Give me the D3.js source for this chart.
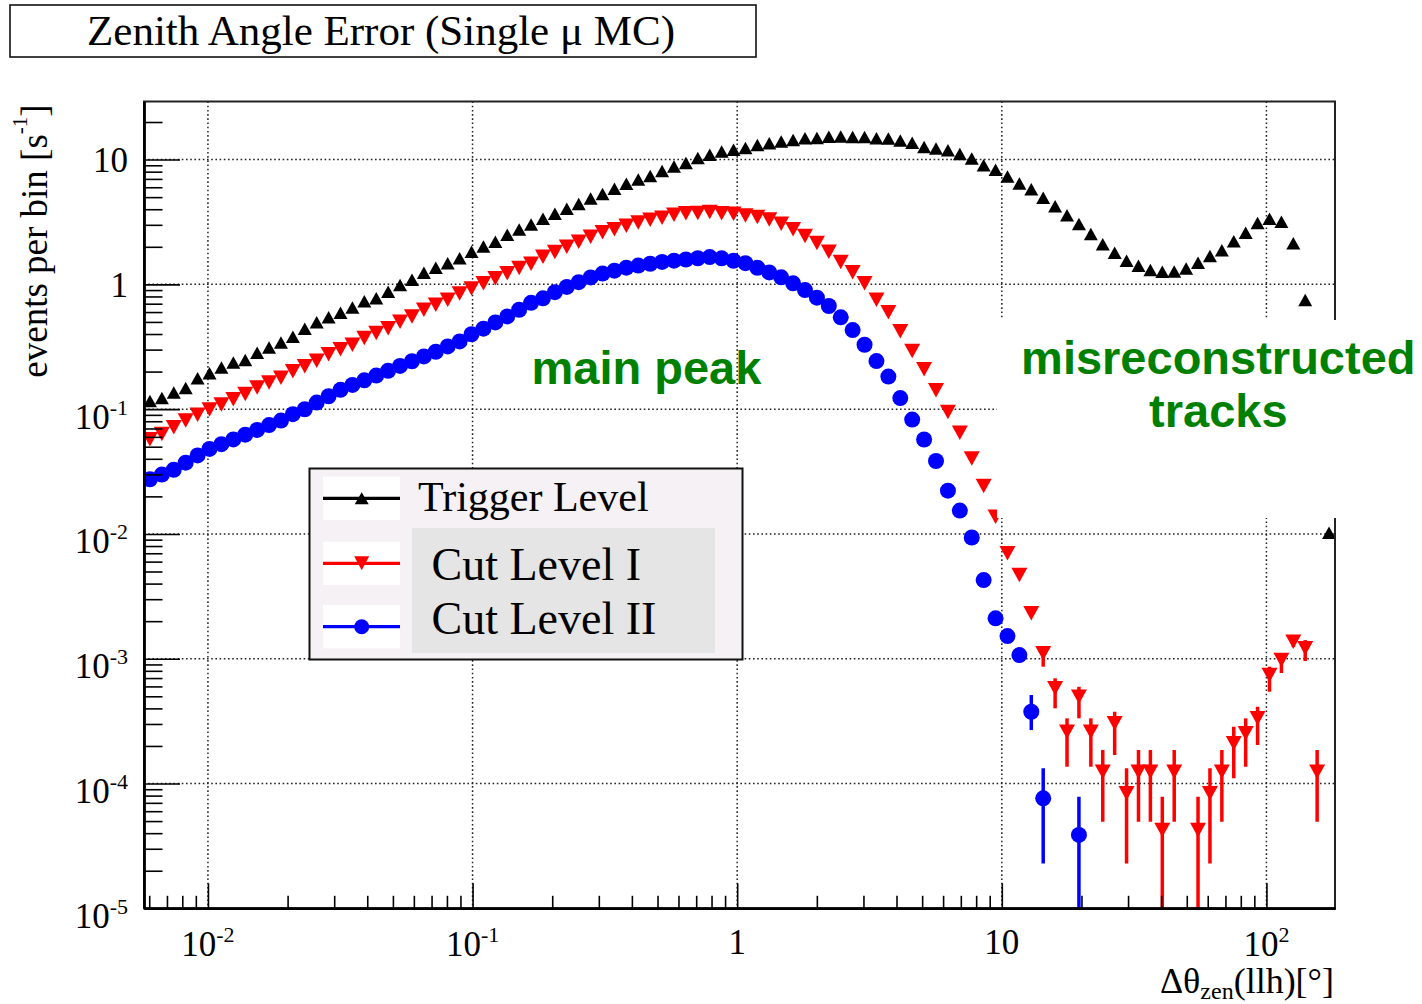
<!DOCTYPE html>
<html>
<head>
<meta charset="utf-8">
<script src="https://cdn.jsdelivr.net/npm/d3@7"></script>
<style>
  body { margin: 0; background: #fff; }
  svg { display: block; font-family: "Liberation Serif", "Times New Roman", serif; }
</style>
</head>
<body>
<svg id="chart" width="1422" height="1004"></svg>
<script>
// histogram binning (100 log bins)
const nBins = 100;
const binLow = 0.005733;
const binHigh = 181.6;

// events per bin [1/s]
const triggerLevel = [
  0.116, 0.123, 0.136, 0.148, 0.177, 0.194, 0.216, 0.236, 0.248, 0.283,
  0.312, 0.342, 0.380, 0.441, 0.496, 0.544, 0.591, 0.651, 0.731, 0.775,
  0.874, 0.987, 1.087, 1.241, 1.358, 1.479, 1.619, 1.822, 2.009, 2.198,
  2.496, 2.749, 3.015, 3.355, 3.686, 4.035, 4.400, 4.870, 5.302, 5.824,
  6.388, 6.915, 7.389, 8.102, 8.788, 9.393, 10.28, 10.95, 11.59, 11.96,
  12.39, 13.07, 13.53, 13.94, 14.38, 14.79, 14.87, 15.23, 15.30, 15.20,
  15.17, 14.79, 14.73, 14.25, 13.66, 12.64, 12.27, 11.85, 11.09, 10.22,
  9.02, 8.30, 7.32, 6.44, 5.78, 4.94, 4.22, 3.58, 3.04, 2.53,
  2.096, 1.792, 1.546, 1.409, 1.302, 1.262, 1.266, 1.339, 1.492, 1.686,
  1.873, 2.211, 2.591, 3.099, 3.360, 3.179, 2.131, 0.748, 0.080, 0.0102
];

const cutLevel1 = [
  0.0573, 0.0632, 0.0715, 0.0810, 0.0903, 0.0993, 0.1091, 0.1198, 0.1321, 0.1492,
  0.1633, 0.1781, 0.2012, 0.2211, 0.2442, 0.2754, 0.3020, 0.3286, 0.3720, 0.4079,
  0.4440, 0.5016, 0.5521, 0.6247, 0.6862, 0.7543, 0.8437, 0.9271, 1.019, 1.119,
  1.229, 1.351, 1.465, 1.661, 1.815, 1.998, 2.194, 2.411, 2.610, 2.764,
  2.943, 3.133, 3.299, 3.417, 3.612, 3.706, 3.734, 3.796, 3.706, 3.679,
  3.565, 3.462, 3.317, 3.053, 2.769, 2.438, 2.142, 1.822, 1.509, 1.248,
  1.019, 0.7543, 0.5977, 0.4201, 0.2921, 0.2084, 0.1420, 0.0948, 0.0646, 0.0403,
  0.0242, 0.01373, 0.00699, 0.00468, 0.00231, 0.001105, 0.000579, 0.000260, 0.000496, 0.000260,
  0.0001243, 0.000304, 0.0000835, 0.0001243, 0.0001243, 0.0000424, 0.0001243, null, 0.0000424, 0.0000835,
  0.0001243, 0.000210, 0.0002525, 0.000333, 0.000740, 0.000976, 0.001368, 0.001212, 0.0001243, null
];

const cutLevel2 = [
  0.02738, 0.02992, 0.03269, 0.03726, 0.04256, 0.04799, 0.05243, 0.05718, 0.06247, 0.06812,
  0.07458, 0.0810, 0.0912, 0.0998, 0.1129, 0.1269, 0.1428, 0.1565, 0.1701, 0.1859,
  0.2031, 0.2219, 0.2419, 0.2644, 0.2884, 0.3180, 0.3488, 0.3983, 0.4416, 0.4951,
  0.5531, 0.6258, 0.7109, 0.7724, 0.8660, 0.9532, 1.041, 1.136, 1.220, 1.288,
  1.361, 1.414, 1.463, 1.512, 1.548, 1.583, 1.619, 1.654, 1.616, 1.546,
  1.479, 1.358, 1.246, 1.138, 1.020, 0.9000, 0.7824, 0.6712, 0.5440, 0.4303,
  0.3281, 0.2428, 0.1825, 0.1227, 0.0825, 0.0571, 0.0384, 0.02220, 0.01540, 0.00936,
  0.00427, 0.002107, 0.00152, 0.00107, 0.000376, 0.0000761, null, null, 0.0000387, null,
  null, null, null, null, null, null, null, null, null, null,
  null, null, null, null, null, null, null, null, null, null
];

// error bars where they stick out of the markers (bin index, low edge, high edge)
const cut1ErrBins = [75, 76, 77, 78, 79, 80, 81, 82, 83, 84, 85, 86, 88, 89, 90, 91, 92, 93, 94, 95, 96, 97, 98];
const cut1ErrLow  = [0.000863, 0.0004005, 0.0001363, 0.000333, 0.0001363, 0.0000494, 0.0001692, 0.0000229, 0.0000494, 0.0000494,
                     0, 0.0000494, 0, 0.0000229, 0.0000494, 0.00011, 0.0001363, 0.0002035, 0.000544, 0.000768, 0.00124, 0.000958, 0.0000494];
const cut1ErrHigh = [0.001248, 0.000697, 0.000333, 0.000596, 0.000333, 0.0001855, 0.000376, 0.0001324, 0.0001855, 0.0001855,
                     0.0000784, 0.0001855, 0.0000784, 0.0001324, 0.0001855, 0.000285, 0.000333, 0.000412, 0.000863, 0.00107, 0.0015, 0.00141, 0.0001855];
const cut2ErrBins = [73, 74, 75, 78];
const cut2ErrLow  = [0.00093, 0.000268, 0.0000229, 0];
const cut2ErrHigh = [0.00118, 0.000512, 0.0001324, 0.0000784];

const xMajor = [0.01, 0.1, 1, 10, 100];
const xMajorLabels = [["10", "-2"], ["10", "-1"], ["1", ""], ["10", ""], ["10", "2"]];
const yMajor = [1e-5, 1e-4, 1e-3, 1e-2, 1e-1, 1, 10];
const yMajorLabels = [["10", "-5"], ["10", "-4"], ["10", "-3"], ["10", "-2"], ["10", "-1"], ["1", ""], ["10", ""]];
const yMin = 1e-5, yMax = 29.2;

const legendLabels = ["Trigger Level", "Cut Level I", "Cut Level II"];
const seriesColors = ["#000000", "#ff0000", "#0000ff"];

const plot = { left: 144, right: 1335, top: 101.5, bottom: 908.3 };
const svg = d3.select("svg#chart");

const x = d3.scaleLog().domain([binLow, binHigh]).range([plot.left, plot.right]);
const y = d3.scaleLog().domain([yMin, yMax]).range([plot.bottom, plot.top]);

const logStep = (Math.log10(binHigh) - Math.log10(binLow)) / nBins;
const binCenters = d3.range(nBins).map(i => Math.pow(10, Math.log10(binLow) + (i + 0.5) * logStep));

const isPow10 = v => Math.abs(Math.log10(v) - Math.round(Math.log10(v))) < 1e-9;

svg.append("defs").append("clipPath").attr("id", "plotclip")
  .append("rect")
  .attr("x", plot.left).attr("y", plot.top)
  .attr("width", plot.right - plot.left).attr("height", plot.bottom - plot.top);

// grid
const grid = svg.append("g")
  .attr("stroke", "#222").attr("stroke-width", 1.5).attr("stroke-dasharray", "1.6,2.6");
grid.selectAll("line.gx").data(xMajor).enter().append("line")
  .attr("x1", d => x(d)).attr("x2", d => x(d))
  .attr("y1", plot.top).attr("y2", plot.bottom);
grid.selectAll("line.gy").data(yMajor.slice(1)).enter().append("line")
  .attr("x1", plot.left).attr("x2", plot.right)
  .attr("y1", d => y(d)).attr("y2", d => y(d));

// markers
function triUp(cx, cy, w, h) {
  return `M${cx - w / 2},${cy + h / 2}L${cx + w / 2},${cy + h / 2}L${cx},${cy - h / 2}Z`;
}
function triDown(cx, cy, w, h) {
  return `M${cx - w / 2},${cy - h / 2}L${cx + w / 2},${cy - h / 2}L${cx},${cy + h / 2}Z`;
}
function points(values) {
  return values.map((v, i) => ({ x: binCenters[i], v: v })).filter(d => d.v != null && d.v > 0);
}

const marks = svg.append("g").attr("clip-path", "url(#plotclip)");

function errorBars(bins, lo, hi, color) {
  marks.append("g").selectAll("line")
    .data(bins.map((b, k) => ({ x: binCenters[b], lo: lo[k], hi: hi[k] })))
    .enter().append("line")
    .attr("x1", d => x(d.x)).attr("x2", d => x(d.x))
    .attr("y1", d => y(d.hi))
    .attr("y2", d => d.lo > yMin ? y(d.lo) : plot.bottom + 5)
    .attr("stroke", color).attr("stroke-width", 3.5);
}

marks.append("g").selectAll("path")
  .data(points(triggerLevel)).enter().append("path")
  .attr("d", d => triUp(x(d.x), y(d.v), 14, 12.5))
  .attr("fill", seriesColors[0]);

errorBars(cut1ErrBins, cut1ErrLow, cut1ErrHigh, seriesColors[1]);
marks.append("g").selectAll("path")
  .data(points(cutLevel1)).enter().append("path")
  .attr("d", d => triDown(x(d.x), y(d.v), 16, 14.5))
  .attr("fill", seriesColors[1]);

errorBars(cut2ErrBins, cut2ErrLow, cut2ErrHigh, seriesColors[2]);
marks.append("g").selectAll("circle")
  .data(points(cutLevel2)).enter().append("circle")
  .attr("cx", d => x(d.x)).attr("cy", d => y(d.v)).attr("r", 8)
  .attr("fill", seriesColors[2]);

// frame
svg.append("rect")
  .attr("x", plot.left).attr("y", plot.top)
  .attr("width", plot.right - plot.left).attr("height", plot.bottom - plot.top)
  .attr("fill", "none").attr("stroke", "#222").attr("stroke-width", 2);

// x axis, ticks inside
const xMinor = x.ticks().filter(v => !isPow10(v));
const gxMinor = svg.append("g").attr("transform", `translate(0,${plot.bottom})`)
  .call(d3.axisBottom(x).tickValues(xMinor).tickSize(-12.5).tickSizeOuter(0).tickFormat(""));
const gxMajor = svg.append("g").attr("transform", `translate(0,${plot.bottom})`)
  .call(d3.axisBottom(x).tickValues(xMajor).tickSize(-25).tickSizeOuter(0).tickFormat(""));
[gxMinor, gxMajor].forEach(g => {
  g.selectAll(".tick line").attr("stroke", "#000").attr("stroke-width", 1.6);
  g.select(".domain").attr("stroke", "#000").attr("stroke-width", 2.6);
});

// y axis, ticks inside
const yMinor = y.ticks().filter(v => !isPow10(v));
const gyMinor = svg.append("g").attr("transform", `translate(${plot.left},0)`)
  .call(d3.axisLeft(y).tickValues(yMinor).tickSize(-18.5).tickSizeOuter(0).tickFormat(""));
const gyMajor = svg.append("g").attr("transform", `translate(${plot.left},0)`)
  .call(d3.axisLeft(y).tickValues(yMajor).tickSize(-36).tickSizeOuter(0).tickFormat(""));
[gyMinor, gyMajor].forEach(g => {
  g.selectAll(".tick line").attr("stroke", "#000").attr("stroke-width", 1.6);
  g.select(".domain").attr("stroke", "#000").attr("stroke-width", 2.4);
});

// tick labels
function powLabel(text, lab, baseSize, expSize, expDy) {
  text.append("tspan").attr("font-size", baseSize).text(lab[0]);
  if (lab[1]) text.append("tspan").attr("font-size", expSize).attr("dy", expDy).text(lab[1]);
}
yMajor.forEach((v, i) => {
  const lab = yMajorLabels[i];
  const t = svg.append("text").attr("x", 128).attr("text-anchor", "end")
    .attr("y", y(v) + (lab[1] ? 19.5 : 12.2));
  powLabel(t, lab, 35, 22, -14);
});
xMajor.forEach((v, i) => {
  const lab = xMajorLabels[i];
  const t = svg.append("text").attr("x", x(v)).attr("text-anchor", "middle")
    .attr("y", lab[1] ? 956 : 954);
  powLabel(t, lab, 35, 22, -14);
});

// axis titles
const yTitle = svg.append("text")
  .attr("transform", "translate(46.5,241) rotate(-90)")
  .attr("text-anchor", "middle").attr("font-size", 37);
yTitle.append("tspan").text("events per bin [s");
yTitle.append("tspan").attr("font-size", 21).attr("dy", -20).text("-1");
yTitle.append("tspan").attr("dy", 20).text("]");

const xTitle = svg.append("text")
  .attr("x", 1334).attr("y", 993).attr("text-anchor", "end").attr("font-size", 36);
xTitle.append("tspan").text("\u0394\u03b8");
xTitle.append("tspan").attr("font-size", 24).attr("dy", 6).text("zen");
xTitle.append("tspan").attr("dy", -6).text("(llh)[\u00b0]");

// title box
svg.append("rect").attr("x", 10).attr("y", 5).attr("width", 746).attr("height", 52)
  .attr("fill", "#fff").attr("stroke", "#111").attr("stroke-width", 1.6);
svg.append("text").attr("x", 381).attr("y", 45).attr("text-anchor", "middle")
  .attr("font-size", 43).text("Zenith Angle Error (Single \u03bc MC)");

// legend
const legend = svg.append("g");
legend.append("rect").attr("x", 309.5).attr("y", 468.5).attr("width", 433).attr("height", 191)
  .attr("fill", "#f6f1f4").attr("stroke", "#111").attr("stroke-width", 2);
legend.append("rect").attr("x", 412).attr("y", 528).attr("width", 303).attr("height", 125)
  .attr("fill", "#e5e5e5");
const legendRows = [498.3, 563.3, 626.7];
const legendText = [
  { x: 418, y: 510.5, size: 42 },
  { x: 431.5, y: 579.5, size: 46 },
  { x: 431.5, y: 633.5, size: 46 }
];
legendLabels.forEach((lab, i) => {
  const cy = legendRows[i];
  legend.append("rect").attr("x", 323).attr("y", cy - 21.7).attr("width", 77).attr("height", 43.3).attr("fill", "#fff");
  legend.append("line").attr("x1", 323).attr("x2", 400).attr("y1", cy).attr("y2", cy)
    .attr("stroke", seriesColors[i]).attr("stroke-width", 3.2);
  if (i === 0) legend.append("path").attr("d", triUp(361.7, cy, 14, 12)).attr("fill", seriesColors[i]);
  if (i === 1) legend.append("path").attr("d", triDown(361.7, cy, 15, 14)).attr("fill", seriesColors[i]);
  if (i === 2) legend.append("circle").attr("cx", 361.7).attr("cy", cy).attr("r", 7.5).attr("fill", seriesColors[i]);
  legend.append("text").attr("x", legendText[i].x).attr("y", legendText[i].y)
    .attr("font-size", legendText[i].size).text(lab);
});

// annotations; the right one sits on a white patch over the frame
svg.append("rect").attr("x", 997).attr("y", 320).attr("width", 425).attr("height", 198)
  .attr("fill", "#fff");
const annot = svg.append("g")
  .attr("font-family", "'Liberation Sans', Arial, sans-serif")
  .attr("font-weight", "bold").attr("font-size", 47).attr("fill", "#008000");
annot.append("text").attr("x", 531.5).attr("y", 383.5).text("main peak");
annot.append("text").attr("x", 1218.3).attr("y", 373.5).attr("text-anchor", "middle").text("misreconstructed");
annot.append("text").attr("x", 1218.3).attr("y", 426.7).attr("text-anchor", "middle").text("tracks");
</script>
</body>
</html>
